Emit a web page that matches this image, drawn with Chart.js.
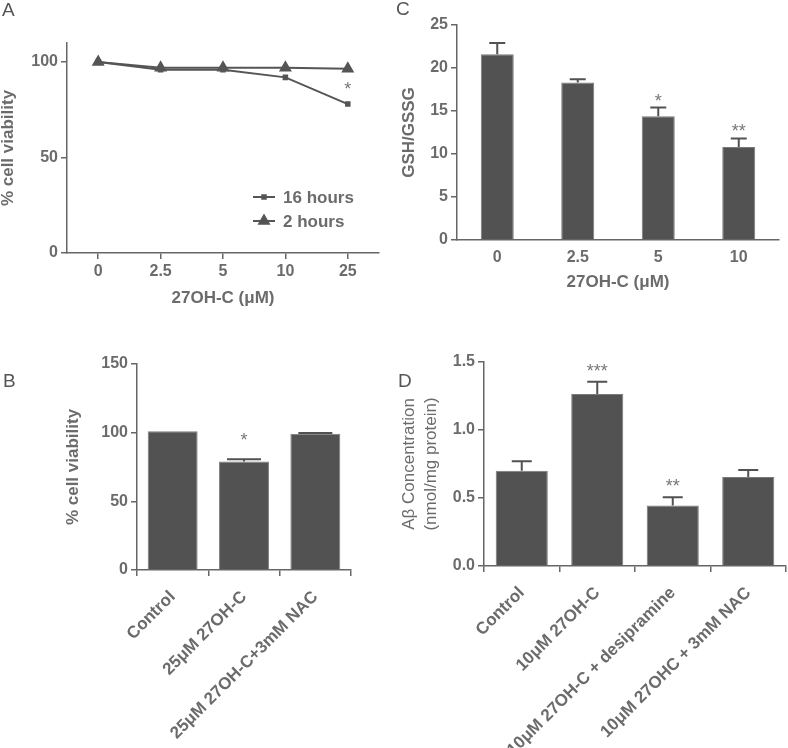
<!DOCTYPE html>
<html>
<head>
<meta charset="utf-8">
<script src="https://cdn.jsdelivr.net/npm/chart.js@4.4.1/dist/chart.umd.min.js"></script>
<style>
  html, body { margin: 0; padding: 0; background: #fff; }
  #wrap { position: relative; width: 788px; height: 748px; overflow: hidden; }
  #wrap canvas { position: absolute; }
  .tag { position: absolute; font: 19px/19px "Liberation Sans", Arial, sans-serif; color: #555; }
</style>
</head>
<body>
<div id="wrap">
  <canvas id="chartA" width="394" height="320" style="left:0;top:0"></canvas>
  <canvas id="chartC" width="394" height="320" style="left:394px;top:0"></canvas>
  <canvas id="chartB" width="394" height="418" style="left:0;top:330px"></canvas>
  <canvas id="chartD" width="394" height="418" style="left:394px;top:330px"></canvas>
  <div class="tag" style="left:2px;top:0">A</div>
  <div class="tag" style="left:396px;top:-1px">C</div>
  <div class="tag" style="left:3px;top:371px">B</div>
  <div class="tag" style="left:398px;top:371px">D</div>
</div>
<script>
// Panel A - viability over dose, two time points
const dosesA = ['0', '2.5', '5', '10', '25'];
const viability16h = [100, 96, 96, 92, 78];
const viability2h = [100, 97, 97, 97, 96.5];
const starsA = ['', '', '', '', '*'];
const yTicksA = [0, 50, 100];

// Panel B - viability with NAC
const groupsB = ['Control', '25μM 27OH-C', '25μM 27OH-C+3mM NAC'];
const viabilityB = [101, 79, 99.3];
const errorsB = [0, 1.6, 0.5];
const starsB = ['', '*', ''];
const yTicksB = [0, 50, 100, 150];

// Panel C - GSH/GSSG ratio
const dosesC = ['0', '2.5', '5', '10'];
const ratioC = [21.6, 18.3, 14.4, 10.8];
const errorsC = [1.3, 0.4, 1.0, 1.0];
const starsC = ['', '', '*', '**'];
const yTicksC = [0, 5, 10, 15, 20, 25];

// Panel D - Abeta concentration
const groupsD = ['Control', '10μM 27OH-C', '10μM 27OH-C + desipramine', '10μM 27OHC + 3mM NAC'];
const abetaD = [0.70, 1.265, 0.445, 0.655];
const errorsD = [0.07, 0.09, 0.06, 0.05];
const starsD = ['', '***', '**', ''];
const yTicksD = [0, 0.5, 1.0, 1.5];

const TEXT = '#6b6b6b';
const AXIS = '#666666';
const BAR = '#525252';
const FAMILY = '"Liberation Sans", Arial, sans-serif';

Chart.defaults.font.family = FAMILY;
Chart.defaults.font.size = 16;
Chart.defaults.font.weight = 'bold';
Chart.defaults.color = TEXT;
Chart.defaults.animation = false;

// error bars + significance stars above each point/bar
const marks = {
    id: 'marks',
    afterDatasetsDraw(chart, args, opts) {
        const ctx = chart.ctx;
        const ds = chart.data.datasets[0];
        const meta = chart.getDatasetMeta(0);
        const y = chart.scales.y;
        ctx.save();
        meta.data.forEach((el, i) => {
            let top = el.y;
            if (opts.errors && opts.errors[i]) {
                top = y.getPixelForValue(ds.data[i] + opts.errors[i]);
                ctx.strokeStyle = BAR;
                ctx.lineWidth = 2;
                ctx.beginPath();
                ctx.moveTo(el.x, el.y);
                ctx.lineTo(el.x, top);
                ctx.moveTo(el.x - opts.cap / 2, top);
                ctx.lineTo(el.x + opts.cap / 2, top);
                ctx.stroke();
            }
            if (opts.stars && opts.stars[i]) {
                ctx.fillStyle = '#777';
                ctx.font = 'normal 18px ' + FAMILY;
                ctx.textAlign = 'center';
                ctx.textBaseline = 'middle';
                ctx.fillText(opts.stars[i], el.x, top - opts.gap + 3);
            }
        });
        ctx.restore();
    }
};

// small legend placed inside panel A
const lineLegend = {
    id: 'lineLegend',
    afterDraw(chart, args, opts) {
        if (!opts.show) return;
        const ctx = chart.ctx;
        ctx.save();
        chart.data.datasets.forEach((ds, i) => {
            const y = opts.y + i * opts.gap;
            ctx.strokeStyle = ds.borderColor;
            ctx.fillStyle = ds.borderColor;
            ctx.lineWidth = 2;
            ctx.beginPath();
            ctx.moveTo(opts.x, y);
            ctx.lineTo(opts.x + 22, y);
            ctx.stroke();
            Chart.helpers.drawPoint(ctx, { pointStyle: ds.pointStyle, radius: ds.pointRadius, borderWidth: 1, rotation: 0 }, opts.x + 11, y);
            ctx.fillStyle = TEXT;
            ctx.font = 'bold 17px ' + FAMILY;
            ctx.textBaseline = 'middle';
            ctx.fillText(ds.label, opts.x + 30, y + 1);
        });
        ctx.restore();
    }
};

const titleFont = { size: 17, weight: 'bold', lineHeight: 1 };

function axisY(ticks, max, title, titlePad, width, fmt) {
    return {
        min: 0,
        max: max,
        afterBuildTicks: s => { s.ticks = ticks.map(v => ({ value: v })); },
        afterFit: s => { s.width = width; },
        border: { color: AXIS, width: 1.5 },
        grid: { drawOnChartArea: false, tickLength: 6, color: AXIS, lineWidth: 1.5 },
        ticks: { padding: 3, callback: fmt || (v => v) },
        title: { display: !!title, text: title, font: titleFont, padding: { top: titlePad, bottom: 0 } }
    };
}

function axisX(height, ticksShown, title, rotate) {
    return {
        offset: true,
        afterFit: s => { s.height = height; },
        border: { color: AXIS, width: 1.5 },
        grid: { display: ticksShown, drawTicks: ticksShown, drawOnChartArea: false, tickLength: 6, color: AXIS, lineWidth: 1.5 },
        ticks: rotate
            ? { autoSkip: false, minRotation: 45, maxRotation: 45, padding: 11, font: { size: 17 } }
            : { autoSkip: false, maxRotation: 0, padding: ticksShown ? 3 : 8 },
        title: { display: !!title, text: title, font: titleFont, padding: { top: 0, bottom: 0 } }
    };
}

function barSet(data, pct) {
    return {
        data: data,
        backgroundColor: BAR,
        borderColor: '#7a7a7a',
        borderWidth: 1,
        barPercentage: pct,
        categoryPercentage: 1
    };
}

// A
new Chart(document.getElementById('chartA'), {
    type: 'line',
    data: {
        labels: dosesA,
        datasets: [
            { label: '16 hours', data: viability16h, borderColor: '#555', backgroundColor: '#555', borderWidth: 2, pointStyle: 'rect', pointRadius: 2.5, tension: 0 },
            { label: '2 hours', data: viability2h, borderColor: '#555', backgroundColor: '#555', borderWidth: 2, pointStyle: 'triangle', pointRadius: 5.5, tension: 0 }
        ]
    },
    options: {
        responsive: false,
        layout: { padding: { top: 43, right: 15, bottom: 13, left: 0 } },
        scales: {
            x: axisX(54, true, '27OH-C (μM)', false),
            y: axisY(yTicksA, 110, '% cell viability', 0, 67)
        },
        plugins: {
            legend: { display: false },
            tooltip: { enabled: false },
            marks: { stars: starsA, gap: 17 },
            lineLegend: { show: true, x: 253, y: 197, gap: 24 }
        }
    },
    plugins: [marks, lineLegend]
});

// C
new Chart(document.getElementById('chartC'), {
    type: 'bar',
    data: { labels: dosesC, datasets: [barSet(ratioC, 0.41)] },
    options: {
        responsive: false,
        layout: { padding: { top: 25, right: 9, bottom: 29, left: 0 } },
        scales: {
            x: axisX(51, false, '27OH-C (μM)', false),
            y: axisY(yTicksC, 25, 'GSH/GSSG', 6.5, 63)
        },
        plugins: {
            legend: { display: false },
            tooltip: { enabled: false },
            marks: { errors: errorsC, stars: starsC, cap: 16, gap: 9 }
        }
    },
    plugins: [marks]
});

// B
new Chart(document.getElementById('chartB'), {
    type: 'bar',
    data: { labels: groupsB, datasets: [barSet(viabilityB, 0.70)] },
    options: {
        responsive: false,
        layout: { padding: { top: 34, right: 43, bottom: 0, left: 0 } },
        scales: {
            x: axisX(178, true, '', true),
            y: axisY(yTicksB, 150, '% cell viability', 65, 137)
        },
        plugins: {
            legend: { display: false },
            tooltip: { enabled: false },
            marks: { errors: errorsB, stars: starsB, cap: 34, gap: 21 }
        }
    },
    plugins: [marks]
});

// D
new Chart(document.getElementById('chartD'), {
    type: 'bar',
    data: { labels: groupsD, datasets: [barSet(abetaD, 0.69)] },
    options: {
        responsive: false,
        layout: { padding: { top: 32, right: 2, bottom: 0, left: 0 } },
        scales: {
            x: axisX(182, true, '', true),
            y: Object.assign(axisY(yTicksD, 1.5, '', 0, 90, v => v.toFixed(1)), {
                title: {
                    display: true,
                    text: ['Aβ Concentration', '(nmol/mg protein)'],
                    font: { weight: 'normal', size: 17, lineHeight: 1.25 },
                    padding: { top: 5, bottom: 0 }
                }
            })
        },
        plugins: {
            legend: { display: false },
            tooltip: { enabled: false },
            marks: { errors: errorsD, stars: starsD, cap: 20, gap: 13 }
        }
    },
    plugins: [marks]
});
</script>
</body>
</html>
